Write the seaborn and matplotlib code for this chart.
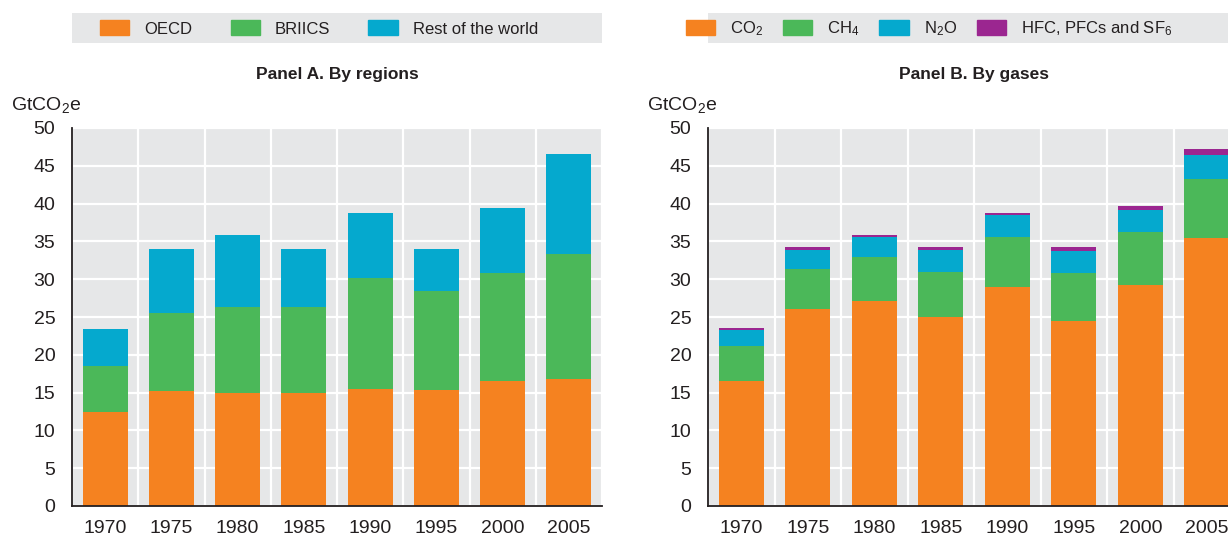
import matplotlib
matplotlib.use("Agg")
import matplotlib.pyplot as plt
from matplotlib.patches import Patch, Rectangle
import numpy as np
import pandas as pd
import seaborn as sns

years = ["1970", "1975", "1980", "1985", "1990", "1995", "2000", "2005"]

# Panel A - by regions (GtCO2e)
oecd = [12.5, 15.2, 15.0, 15.0, 15.5, 15.3, 16.5, 16.8]
briics = [6.0, 10.3, 11.3, 11.3, 14.6, 13.1, 14.3, 16.5]
rest_world = [4.9, 8.5, 9.5, 7.7, 8.6, 5.6, 8.6, 13.3]

# Panel B - by gases (GtCO2e)
co2 = [16.5, 26.1, 27.1, 25.0, 29.0, 24.5, 29.2, 35.5]
ch4 = [4.7, 5.3, 5.8, 6.0, 6.6, 6.3, 7.1, 7.8]
n2o = [2.1, 2.5, 2.7, 2.9, 2.9, 2.9, 2.9, 3.1]
hfc = [0.3, 0.3, 0.3, 0.3, 0.3, 0.5, 0.5, 0.8]

sns.set_style("white")
FONT = "Liberation Sans"
plt.rcParams["font.family"] = [FONT, "DejaVu Sans"]
plt.rcParams["mathtext.fontset"] = "custom"
plt.rcParams["mathtext.rm"] = FONT
plt.rcParams["mathtext.default"] = "regular"

ORANGE = "#F58220"
GREEN = "#4BB859"
BLUE = "#05A9CE"
PURPLE = "#9B2690"
BG = "#E6E7E8"
TXT = "#231F20"

fig = plt.figure(figsize=(12.28, 5.39), dpi=100)
ax_a = fig.add_axes([72 / 1228, 1 - 506 / 539, 530 / 1228, 378 / 539])
ax_b = fig.add_axes([708 / 1228, 1 - 506 / 539, 532 / 1228, 378 / 539])


def stacked(ax, series, colors):
    bottom = np.zeros(len(years))
    for vals, col in zip(series, colors):
        df = pd.DataFrame({"year": years, "value": vals})
        sns.barplot(data=df, x="year", y="value", color=col, bottom=bottom,
                    width=0.68, saturation=1, linewidth=0, ax=ax, zorder=3)
        bottom = bottom + np.array(vals)


def style(ax, title):
    ax.set_facecolor(BG)
    ax.set_ylim(0, 50)
    ax.set_xlim(-0.5, len(years) - 0.5)
    ax.set_yticks(range(0, 51, 5))
    ax.set_xticks(np.arange(-0.5, len(years)), minor=True)
    ax.grid(axis="y", color="white", linewidth=1.6, zorder=0)
    ax.grid(axis="x", which="minor", color="white", linewidth=1.6, zorder=0)
    ax.grid(axis="x", which="major", visible=False)
    ax.set_axisbelow(True)
    for s in ["top", "right"]:
        ax.spines[s].set_visible(False)
    for s in ["left", "bottom"]:
        ax.spines[s].set_color(TXT)
        ax.spines[s].set_linewidth(1.3)
        ax.spines[s].set_zorder(5)
    ax.tick_params(axis="y", direction="in", length=5, color=TXT,
                   labelsize=14, pad=12, labelcolor=TXT)
    ax.tick_params(axis="x", which="major", length=0, labelsize=14, pad=10,
                   labelcolor=TXT)
    ax.tick_params(axis="x", which="minor", direction="in", length=5,
                   color="#888888")
    ax.set_xlabel("")
    ax.set_ylabel("")
    ax.set_title(title, fontsize=12.5, fontweight="bold", pad=35, color=TXT)
    ax.text(-0.115, 1.035, "GtCO$_2$e", transform=ax.transAxes, fontsize=14,
            ha="left", va="bottom", color=TXT)


stacked(ax_a, [oecd, briics, rest_world], [ORANGE, GREEN, BLUE])
stacked(ax_b, [co2, ch4, n2o, hfc], [ORANGE, GREEN, BLUE, PURPLE])
style(ax_a, "Panel A. By regions")
style(ax_b, "Panel B. By gases")

# legend boxes
fig.patches.append(Rectangle((72 / 1228, 1 - 43 / 539), 530 / 1228, 30 / 539,
                             transform=fig.transFigure, facecolor=BG,
                             edgecolor="none", zorder=0))
fig.patches.append(Rectangle((708 / 1228, 1 - 43 / 539), 530 / 1228, 30 / 539,
                             transform=fig.transFigure, facecolor=BG,
                             edgecolor="none", zorder=0))

leg_kw = dict(loc="center", frameon=False, fontsize=12, handlelength=1.75,
              handleheight=1.0, handletextpad=0.9, labelcolor=TXT)
h_a = [Patch(color=c) for c in [ORANGE, GREEN, BLUE]]
fig.legend(h_a, ["OECD", "BRIICS", "Rest of the world"], ncol=3,
           bbox_to_anchor=(319 / 1228, 1 - 28.5 / 539), columnspacing=2.3,
           **leg_kw)
h_b = [Patch(color=c) for c in [ORANGE, GREEN, BLUE, PURPLE]]
fig.legend(h_b, ["CO$_2$", "CH$_4$", "N$_2$O", "HFC, PFCs and SF$_6$"], ncol=4,
           bbox_to_anchor=(929 / 1228, 1 - 28.5 / 539), columnspacing=1.2,
           **leg_kw)

fig.savefig("out.png", dpi=100)
plt.close(fig)
